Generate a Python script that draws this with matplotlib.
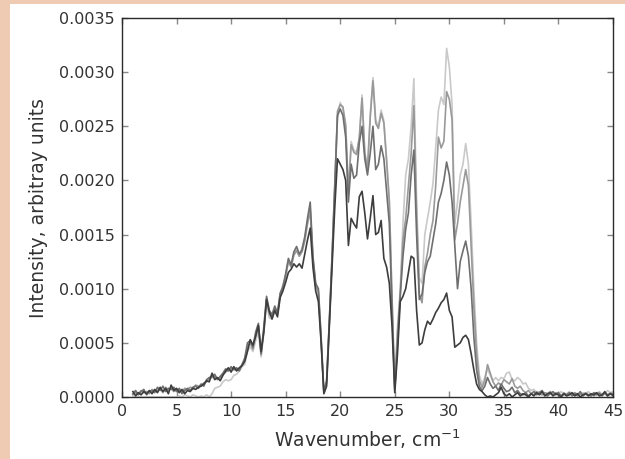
import numpy as np
import matplotlib
matplotlib.use('Agg')
import matplotlib.pyplot as plt
import matplotlib.ticker as mticker
from matplotlib.patches import Rectangle

# --- Dados (intensidade em unidades de 1e-4) ---
# grade de número de onda: 1.0 ... 45.0 cm^-1, passo 0.25
wavenumber = np.arange(1.0, 45.01, 0.25)

# curva mais clara
serie_a = [
    0.0, 0.0, 0.0, 0.0, 0.0, 0.0, 0.0, 0.0,
    0.0, 0.0, 0.0, 0.0, 0.0, 0.0, 0.0, 0.0,
    0.0, 0.1, 0.0, 0.2, 0.1, 0.0, 0.2, 0.1,
    0.0, 0.1, 0.0, 0.2, 0.0, 0.3, 0.8, 0.9,
    1.0, 1.4, 1.6, 1.5, 1.6, 2.0, 2.1, 2.4,
    2.8, 3.0, 4.3, 4.6, 4.2, 5.2, 6.0, 3.7,
    6.0, 8.8, 7.3, 7.2, 7.9, 7.6, 9.4, 10.4,
    11.0, 12.6, 12.0, 13.2, 13.6, 13.0, 13.8, 14.6,
    16.0, 17.4, 12.8, 10.4, 9.6, 5.2, 0.4, 1.2,
    6.8, 12.5, 19.0, 25.8, 27.2, 26.6, 25.3, 19.0,
    23.6, 22.8, 22.6, 23.8, 27.9, 22.6, 21.2, 26.1,
    29.5, 25.6, 25.0, 26.5, 25.5, 22.0, 18.2, 9.2,
    0.8, 6.5, 10.0, 16.0, 20.5, 22.0, 25.0, 29.4,
    18.0, 11.0, 10.5, 15.0, 16.5, 18.0, 19.7, 23.0,
    26.5, 27.7, 27.0, 32.2, 30.5, 27.0, 16.0, 18.0,
    20.5, 21.5, 23.4, 21.5, 16.0, 10.0, 5.0, 2.0,
    1.2, 1.8, 2.6, 2.0, 1.5, 1.8, 1.5, 1.8,
    1.7, 2.2, 2.3, 1.6, 1.5, 1.8, 1.6, 1.2,
    1.3, 0.8, 0.6, 0.7, 0.4, 0.5, 0.2, 0.4,
    0.3, 0.5, 0.2, 0.4, 0.3, 0.5, 0.2, 0.3,
    0.5, 0.2, 0.4, 0.3, 0.2, 0.4, 0.3, 0.5,
    0.2, 0.4, 0.3, 0.5, 0.2, 0.3, 0.6, 0.4,
    0.5,
]

# curva cinza média
serie_b = [
    0.2, 0.4, 0.3, 0.6, 0.4, 0.5, 0.3, 0.7,
    0.5, 0.6, 0.8, 0.4, 0.9, 0.6, 0.8, 0.5,
    0.7, 0.6, 0.5, 0.8, 0.7, 0.9, 0.8, 1.1,
    1.0, 1.1, 1.3, 1.4, 1.7, 1.8, 1.9, 1.7,
    1.8, 2.1, 2.3, 2.5, 2.6, 2.6, 2.5, 2.6,
    2.9, 3.4, 4.6, 5.0, 4.4, 5.7, 6.5, 3.9,
    6.2, 9.1, 7.6, 7.4, 8.2, 7.7, 9.5, 10.1,
    11.2, 12.5, 12.0, 13.1, 13.5, 13.0, 13.4, 14.4,
    16.0, 17.2, 12.6, 10.3, 9.7, 5.3, 0.4, 1.3,
    6.8, 12.8, 19.5, 26.4, 27.0, 26.8, 25.0, 18.8,
    23.3, 22.6, 22.4, 24.0, 27.6, 22.5, 21.0, 25.8,
    29.2, 25.3, 24.8, 26.2, 25.3, 21.8, 18.0, 9.0,
    0.8, 6.0, 9.5, 14.5, 16.5, 19.5, 22.5, 26.9,
    17.0, 9.5, 8.7, 12.0, 13.3, 15.0, 16.3, 19.5,
    24.0, 23.0, 23.6, 28.2, 27.5, 25.6, 14.5, 16.0,
    18.0, 19.5, 21.0, 19.5, 14.0, 8.3, 4.0, 1.5,
    0.9, 1.5, 3.0, 2.2, 1.4, 1.0, 1.3, 1.1,
    1.6, 1.4, 1.2, 1.7, 1.0, 0.8, 1.0, 0.6,
    0.4, 0.6, 0.3, 0.2, 0.5, 0.3, 0.2, 0.4,
    0.3, 0.5, 0.2, 0.4, 0.3, 0.1, 0.4, 0.2,
    0.3, 0.2, 0.4, 0.1, 0.3, 0.2, 0.4, 0.2,
    0.3, 0.1, 0.3, 0.4, 0.2, 0.3, 0.1, 0.4,
    0.3,
]

# curva cinza escura
serie_c = [
    0.3, 0.6, 0.2, 0.5, 0.7, 0.2, 0.5, 0.6,
    0.4, 0.9, 0.6, 1.0, 0.5, 0.8, 0.7, 0.9,
    0.5, 0.8, 0.3, 0.6, 0.8, 0.6, 0.9, 1.0,
    0.8, 1.2, 1.0, 1.6, 1.8, 1.9, 2.1, 1.6,
    1.9, 2.2, 2.6, 2.4, 2.8, 2.5, 2.7, 2.4,
    3.0, 3.6, 5.0, 5.2, 4.6, 6.0, 6.8, 4.0,
    6.5, 9.3, 8.0, 7.6, 8.4, 7.8, 9.6, 10.2,
    11.4, 12.8, 12.2, 13.4, 13.9, 13.2, 13.6, 14.8,
    16.5, 18.0, 13.0, 10.5, 10.0, 5.5, 0.5, 1.5,
    7.0, 13.0, 19.5, 26.0, 26.6, 26.0, 24.0, 18.0,
    21.5, 20.2, 20.5, 23.5, 25.0, 22.0, 20.5, 22.5,
    25.0, 21.0, 21.5, 23.2, 22.0, 19.0, 16.0, 8.0,
    0.6, 5.0, 9.3, 13.0, 15.5, 17.0, 20.5, 22.8,
    15.0, 9.0, 9.5, 11.5, 12.5, 13.0, 14.5, 16.0,
    18.0, 18.8, 20.0, 21.7, 20.5, 18.0, 14.0, 10.0,
    12.5, 13.5, 14.4, 13.0, 10.0, 5.5, 2.5, 1.0,
    0.6, 1.0, 1.8, 1.2, 0.8, 1.0, 0.6, 1.2,
    0.8, 0.5, 0.6, 0.9, 0.4, 0.6, 0.3, 0.2,
    0.4, 0.1, 0.3, 0.5, 0.2, 0.4, 0.6, 0.2,
    0.1, 0.3, 0.5, 0.2, 0.4, 0.1, 0.3, 0.2,
    0.4, 0.1, 0.3, 0.2, 0.5, 0.1, 0.3, 0.2,
    0.1, 0.4, 0.2, 0.3, 0.1, 0.4, 0.2, 0.3,
    0.1,
]

# curva mais escura
serie_d = [
    0.5, 0.1, 0.4, 0.2, 0.5, 0.3, 0.6, 0.3,
    0.7, 0.4, 0.9, 0.5, 0.8, 0.3, 1.1, 0.6,
    0.8, 0.4, 0.7, 0.3, 0.6, 0.5, 0.8, 0.7,
    0.9, 1.0, 1.2, 1.5, 1.4, 2.2, 1.6, 1.8,
    1.5, 2.0, 2.4, 2.7, 2.3, 2.8, 2.4, 2.7,
    2.9, 3.3, 4.2, 5.3, 4.8, 5.6, 6.6, 4.2,
    6.0, 9.0, 7.9, 7.2, 8.0, 7.4, 9.2, 9.8,
    10.6, 11.5, 11.8, 12.3, 12.0, 12.3, 11.9, 13.2,
    14.5, 15.6, 12.0, 9.8, 8.8, 5.0, 0.3, 1.0,
    6.5, 12.0, 17.5, 22.0, 21.5, 21.0, 20.0, 14.0,
    16.5, 16.0, 15.6, 18.5, 19.0, 17.0, 14.6, 16.5,
    18.6, 15.0, 15.2, 16.3, 12.8, 12.0, 10.5, 6.5,
    0.4, 4.0, 8.8, 9.3, 10.0, 11.5, 13.0, 12.8,
    8.0, 4.8, 5.0, 6.2, 7.0, 6.7, 7.2, 7.8,
    8.2, 8.7, 9.0, 9.6, 8.0, 7.4, 4.6, 4.8,
    5.0, 5.5, 5.7, 5.3, 4.0, 2.5, 1.2, 0.7,
    0.5, 0.2, 0.0, 0.1, 0.0, 0.2, 0.4, 0.9,
    0.3, 0.1, 0.3, 0.0, 0.2, 0.4, 0.1, 0.3,
    0.2, 0.0, 0.3, 0.1, 0.4, 0.2, 0.5, 0.1,
    0.3, 0.4, 0.1, 0.3, 0.2, 0.0, 0.3, 0.1,
    0.2, 0.4, 0.1, 0.3, 0.0, 0.2, 0.3, 0.1,
    0.3, 0.2, 0.4, 0.1, 0.2, 0.5, 0.1, 0.3,
    0.2,
]

series = [serie_a, serie_b, serie_c, serie_d]
cores = ['#c9c9c9', '#999999', '#6f6f6f', '#3d3d3d']

fig = plt.figure(figsize=(6.25, 4.59), dpi=100)
fig.patch.set_facecolor('#eecbb2')
# área branca (a borda colorida fica só à esquerda e no topo)
fig.add_artist(Rectangle((10 / 625, 0), 1, 1 - 4 / 459, transform=fig.transFigure,
                         facecolor='white', edgecolor='none', zorder=-1))

ax = fig.add_axes([122 / 625, 1 - 397 / 459, 491 / 625, 379 / 459])

for valores, cor in zip(series, cores):
    ax.plot(wavenumber, np.array(valores) * 1e-4, color=cor, lw=1.2,
            solid_joinstyle='round')

ax.set_xlim(0, 45)
ax.set_ylim(0, 0.0035)
ax.xaxis.set_major_locator(mticker.MultipleLocator(5))
ax.yaxis.set_major_locator(mticker.MultipleLocator(0.0005))
ax.yaxis.set_major_formatter(mticker.FormatStrFormatter('%.4f'))

ax.tick_params(direction='in', top=True, right=True, length=4, width=1,
               color='#888888', labelcolor='#333333', labelsize=11.5, pad=5)
for s in ax.spines.values():
    s.set_color('#2a2a2a')
    s.set_linewidth(1.0)

ax.set_xlabel('Wavenumber, cm$^{-1}$', fontsize=13.5, color='#333333', labelpad=6)
ax.set_ylabel('Intensity, arbitray units', fontsize=13.5, color='#333333', labelpad=8)

plt.savefig('out.png', dpi=100, facecolor=fig.get_facecolor())
